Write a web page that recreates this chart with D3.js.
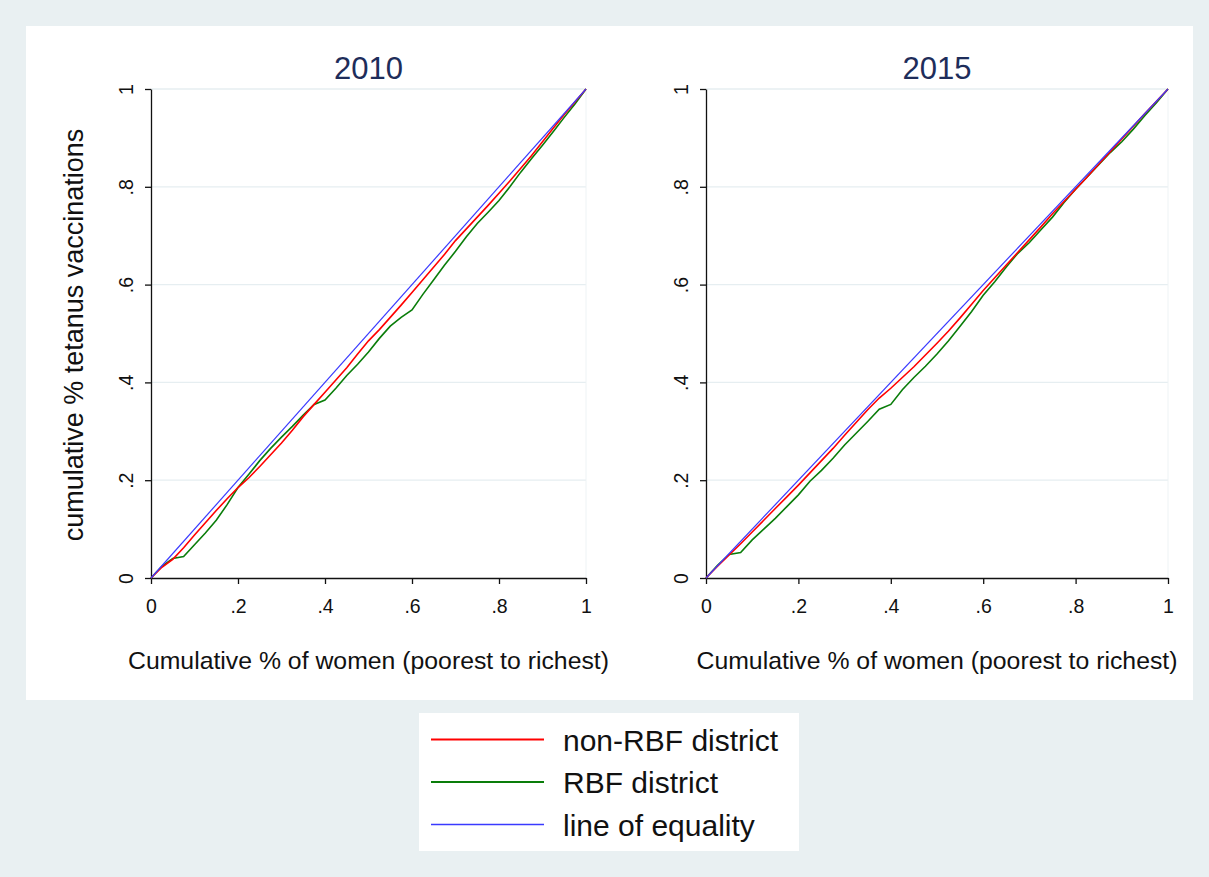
<!DOCTYPE html>
<html><head><meta charset="utf-8">
<script src="https://cdn.jsdelivr.net/npm/d3@7"></script>
<style>body{margin:0;background:#e9f0f2;}svg{display:block;font-family:"Liberation Sans",Arial,sans-serif;}</style>
</head><body><svg id="c" width="1209" height="877"></svg>
<script>
const xGrid = [0,0.025,0.05,0.075,0.1,0.125,0.15,0.175,0.2,0.225,0.25,0.275,0.3,0.325,0.35,0.375,0.4,0.425,0.45,0.475,0.5,0.525,0.55,0.575,0.6,0.625,0.65,0.675,0.7,0.725,0.75,0.775,0.8,0.825,0.85,0.875,0.9,0.925,0.95,0.975,1];
const red2010 = [0,0.022,0.038,0.062,0.088,0.113,0.138,0.162,0.185,0.205,0.228,0.252,0.276,0.302,0.330,0.355,0.380,0.405,0.430,0.458,0.485,0.508,0.533,0.558,0.584,0.610,0.636,0.662,0.690,0.714,0.738,0.762,0.787,0.812,0.838,0.864,0.892,0.920,0.948,0.974,1];
const green2010 = [0,0.024,0.040,0.044,0.068,0.092,0.118,0.150,0.185,0.212,0.240,0.265,0.288,0.310,0.333,0.355,0.364,0.388,0.414,0.437,0.462,0.490,0.515,0.533,0.548,0.580,0.610,0.640,0.668,0.698,0.725,0.748,0.772,0.800,0.830,0.858,0.885,0.913,0.942,0.970,1];
const red2015 = [0,0.024,0.047,0.070,0.094,0.118,0.142,0.166,0.190,0.215,0.240,0.265,0.292,0.318,0.344,0.368,0.388,0.410,0.432,0.456,0.480,0.505,0.532,0.560,0.588,0.614,0.640,0.666,0.692,0.718,0.745,0.770,0.795,0.820,0.846,0.872,0.898,0.924,0.950,0.975,1];
const green2015 = [0,0.026,0.048,0.052,0.078,0.100,0.122,0.146,0.170,0.198,0.220,0.245,0.272,0.296,0.320,0.345,0.355,0.385,0.410,0.433,0.458,0.485,0.515,0.545,0.578,0.606,0.636,0.664,0.686,0.712,0.738,0.768,0.795,0.820,0.845,0.870,0.892,0.918,0.946,0.972,1];
const equality = [0,1];
const panelTitles = ["2010","2015"];
const tickVals = [0,0.2,0.4,0.6,0.8,1];
const tickLabels = ["0",".2",".4",".6",".8","1"];
const seriesNames = ["non-RBF district","RBF district","line of equality"];
const seriesColors = ["#ff0000","#0a7d0a","#3a3aff"];
const yTitle = "cumulative % tetanus vaccinations";
const xTitle = "Cumulative % of women (poorest to richest)";

const svg = d3.select("#c");
svg.append("rect").attr("x",0).attr("y",0).attr("width",1209).attr("height",877).attr("fill","#e9f0f2");
svg.append("rect").attr("x",26).attr("y",26).attr("width",1167).attr("height",674).attr("fill","#ffffff");

const panels = [
  {title:panelTitles[0], red:red2010, green:green2010, x0:151, x1:586},
  {title:panelTitles[1], red:red2015, green:green2015, x0:706, x1:1168}
];
const yTop = 89, yBot = 578;

panels.forEach((p,pi)=>{
  const x = d3.scaleLinear().domain([0,1]).range([p.x0,p.x1]);
  const y = d3.scaleLinear().domain([0,1]).range([yBot,yTop]);
  const g = svg.append("g");
  g.selectAll(".grid").data(tickVals.slice(1)).enter().append("line")
    .attr("x1",p.x0).attr("x2",p.x1).attr("y1",d=>y(d)).attr("y2",d=>y(d))
    .attr("stroke","#e6eef1").attr("stroke-width",1.3);
  g.append("line").attr("x1",p.x1).attr("x2",p.x1).attr("y1",yTop).attr("y2",yBot).attr("stroke","#eef3f5").attr("stroke-width",1);
  const xa = g.append("g").attr("transform",`translate(0,${yBot})`)
    .call(d3.axisBottom(x).tickValues(tickVals).tickFormat((d,i)=>tickLabels[i]).tickSize(6).tickSizeOuter(0));
  xa.select(".domain").attr("stroke","#111").attr("stroke-width",1.3);
  xa.selectAll(".tick line").attr("stroke","#111").attr("stroke-width",1.3);
  xa.selectAll("text").remove();
  xa.selectAll(".tick").append("text")
    .attr("y",35).attr("text-anchor","middle")
    .attr("font-size",19.5).attr("fill","#111")
    .attr("font-family","Liberation Sans, Arial, sans-serif")
    .text((d,i)=>tickLabels[i]);
  const ya = g.append("g").attr("transform",`translate(${p.x0},0)`)
    .call(d3.axisLeft(y).tickValues(tickVals).tickFormat((d,i)=>tickLabels[i]).tickSize(6).tickSizeOuter(0));
  ya.select(".domain").attr("stroke","#111").attr("stroke-width",1.3);
  ya.selectAll(".tick line").attr("stroke","#111").attr("stroke-width",1.3);
  ya.selectAll("text").remove();
  ya.selectAll(".tick").append("text")
    .attr("transform","translate(-18,0) rotate(-90)")
    .attr("text-anchor","middle")
    .attr("font-size",19.5).attr("fill","#111")
    .attr("font-family","Liberation Sans, Arial, sans-serif")
    .text((d,i)=>tickLabels[i]);
  const line = d3.line().x(d=>x(d[0])).y(d=>y(d[1]));
  g.append("path").datum(xGrid.map((v,i)=>[v,p.green[i]])).attr("d",line)
    .attr("fill","none").attr("stroke",seriesColors[1]).attr("stroke-width",1.6);
  g.append("path").datum(xGrid.map((v,i)=>[v,p.red[i]])).attr("d",line)
    .attr("fill","none").attr("stroke",seriesColors[0]).attr("stroke-width",1.6);
  g.append("path").datum(equality.map(v=>[v,v])).attr("d",line)
    .attr("fill","none").attr("stroke",seriesColors[2]).attr("stroke-width",1.2);
  svg.append("text").attr("x",(p.x0+p.x1)/2).attr("y",79).attr("text-anchor","middle")
    .attr("font-size",31).attr("fill","#1e2d5a").text(p.title);
  svg.append("text").attr("x",(p.x0+p.x1)/2).attr("y",669).attr("text-anchor","middle")
    .attr("font-size",24.8).attr("fill","#111").text(xTitle);
});
svg.append("text").attr("transform",`translate(83,335) rotate(-90)`)
  .attr("text-anchor","middle").attr("font-size",27).attr("fill","#111").text(yTitle);

const lg = svg.append("g");
lg.append("rect").attr("x",419).attr("y",713).attr("width",380).attr("height",138).attr("fill","#fff");
seriesNames.forEach((n,i)=>{
  const yy = 739.5 + i*42.5;
  lg.append("line").attr("x1",431).attr("x2",544).attr("y1",yy).attr("y2",yy)
    .attr("stroke",seriesColors[i]).attr("stroke-width",i==2?1.3:1.8);
  lg.append("text").attr("x",563).attr("y",yy+11.3).attr("font-size",30).attr("fill","#111").text(n);
});
</script></body></html>
